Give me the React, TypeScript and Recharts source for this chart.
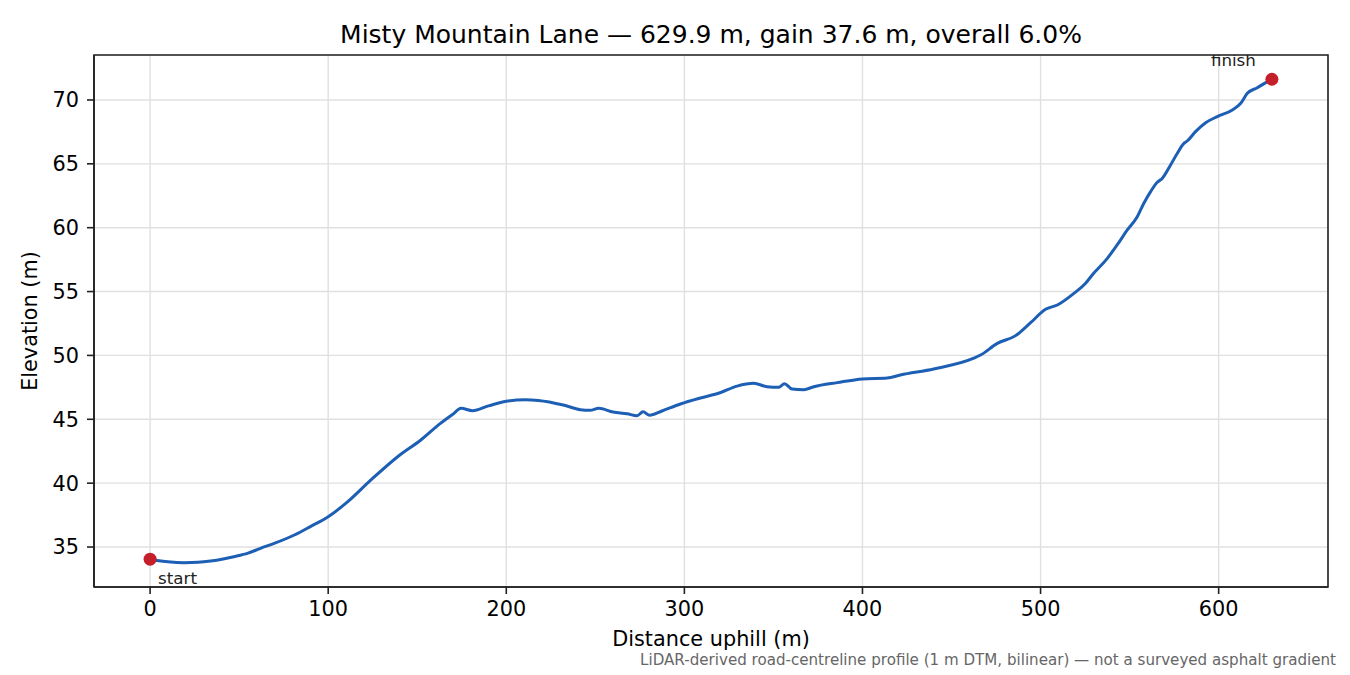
import React from 'react';
import { ComposedChart, Line, Scatter, XAxis, YAxis, CartesianGrid, ReferenceArea } from 'recharts';

// Distance along the lane (m)
const distances = [
  0, 5, 10, 19, 27, 34, 41, 47, 55, 62, 70, 81, 90, 100, 111, 124, 139, 152, 163, 170,
  174.6, 181, 190, 200, 210.7, 218, 232, 241.6, 247, 251.9, 260, 267.8, 273.4, 276.8, 280.5, 287.4,
  297.8, 309, 320, 329.6, 338.9, 346.4, 353, 356.2, 360.5, 367, 372.7, 385.8, 400, 413.9, 421.3,
  440, 462.5, 466.3, 475.7, 486, 494.4, 502.8, 509.4, 518.7, 525.3, 529, 537.5, 543, 548.7, 554.3,
  558, 561.8, 565.5, 568.4, 573, 576.8, 580.5, 582.4, 587, 592.7, 599.3, 607.7, 612.4, 616.1, 621.7,
  627.4, 629.9,
];

// Elevation (m)
const elevations = [
  34.05, 33.92, 33.84, 33.77, 33.8, 33.9, 34.06, 34.24, 34.52, 34.9, 35.3, 35.94, 36.6, 37.37, 38.55,
  40.25, 42.07, 43.38, 44.68, 45.4, 45.86, 45.67, 46.05, 46.41, 46.53, 46.48, 46.12, 45.75, 45.7, 45.86,
  45.57, 45.44, 45.28, 45.59, 45.31, 45.65, 46.2, 46.67, 47.08, 47.6, 47.82, 47.55, 47.5, 47.79, 47.37,
  47.32, 47.55, 47.87, 48.16, 48.23, 48.47, 48.94, 49.78, 50.03, 50.94, 51.55, 52.56, 53.61, 53.95,
  54.86, 55.65, 56.3, 57.6, 58.65, 59.82, 60.86, 61.91, 62.82, 63.55, 63.87, 64.91, 65.83, 66.6, 66.79,
  67.52, 68.22, 68.7, 69.22, 69.74, 70.52, 70.96, 71.44, 71.62,
];

const markerDistances = [0, 629.9];
const markerElevations = [34.05, 71.62];
const markerLabels = ['start', 'finish'];

const xTicks = [0, 100, 200, 300, 400, 500, 600];
const yTicks = [35, 40, 45, 50, 55, 60, 65, 70];
const xDomain: [number, number] = [-31.5, 661.4];
const yDomain: [number, number] = [31.87, 73.52];

const titleText = 'Misty Mountain Lane — 629.9 m, gain 37.6 m, overall 6.0%';
const xLabelText = 'Distance uphill (m)';
const yLabelText = 'Elevation (m)';
const footnoteText = 'LiDAR-derived road-centreline profile (1 m DTM, bilinear) — not a surveyed asphalt gradient';

const profile = distances.map((d, i) => ({ dist: d, elev: elevations[i] }));
const markers = markerDistances.map((d, i) => ({ dist: d, elev: markerElevations[i], label: markerLabels[i] }));

const FONT = '"DejaVu Sans", sans-serif';
const LINE_BLUE = '#1c5fb4';
const MARK_RED = '#c41f2b';

const MarkerShape = (props: any) => {
  const { cx, cy, payload } = props;
  if (cx == null || cy == null) return null;
  const isStart = payload && payload.label === 'start';
  return (
    <g>
      <circle cx={cx} cy={cy} r={6.5} fill={MARK_RED} />
      <text
        x={isStart ? cx + 8 : cx - 16}
        y={isStart ? cy + 24.5 : cy - 13}
        textAnchor={isStart ? 'start' : 'end'}
        fontSize={16.7}
        fontFamily={FONT}
        fill="#222"
      >
        {payload.label}
      </text>
    </g>
  );
};

export default function App() {
  const axisStroke = { stroke: '#222', strokeWidth: 1.6 };
  const tickStyle = { fill: '#000', fontSize: 20.8, fontFamily: FONT };
  return (
    <div style={{ position: 'absolute', left: 0, top: 0, width: 1350, height: 675, background: '#fff', fontFamily: FONT }}>
      <ComposedChart
        width={1350}
        height={675}
        margin={{ top: 55, right: 22, bottom: 48, left: 24 }}
      >
        <CartesianGrid stroke="#e0e0e0" strokeWidth={1.4} />
        <XAxis
          dataKey="dist"
          type="number"
          domain={xDomain}
          ticks={xTicks}
          allowDataOverflow
          height={40}
          tickSize={7}
          tickMargin={7}
          axisLine={axisStroke}
          tickLine={axisStroke}
          tick={tickStyle}
        />
        <YAxis
          type="number"
          domain={yDomain}
          ticks={yTicks}
          allowDataOverflow
          width={70}
          tickSize={7}
          tickMargin={8}
          axisLine={axisStroke}
          tickLine={axisStroke}
          tick={tickStyle}
        />
        <ReferenceArea
          x1={xDomain[0]}
          x2={xDomain[1]}
          y1={yDomain[0]}
          y2={yDomain[1]}
          fill="none"
          fillOpacity={0}
          stroke="#222"
          strokeWidth={1.6}
          ifOverflow="visible"
        />
        <Line
          data={profile}
          dataKey="elev"
          type="monotone"
          stroke={LINE_BLUE}
          strokeWidth={3}
          dot={false}
          activeDot={false}
          isAnimationActive={false}
        />
        <Scatter
          data={markers}
          dataKey="elev"
          shape={<MarkerShape />}
          isAnimationActive={false}
        />
      </ComposedChart>
      <svg
        width={1350}
        height={675}
        style={{ position: 'absolute', left: 0, top: 0, pointerEvents: 'none' }}
      >
        <text x={711} y={42.5} textAnchor="middle" fontSize={25} fontFamily={FONT} fill="#000">
          {titleText}
        </text>
        <text x={711} y={646} textAnchor="middle" fontSize={20.8} fontFamily={FONT} fill="#000">
          {xLabelText}
        </text>
        <text
          x={37}
          y={321}
          textAnchor="middle"
          fontSize={20.8}
          fontFamily={FONT}
          fill="#000"
          transform="rotate(-90 37 321)"
        >
          {yLabelText}
        </text>
        <text x={1336} y={665} textAnchor="end" fontSize={15.1} fontFamily={FONT} fill="#666">
          {footnoteText}
        </text>
      </svg>
    </div>
  );
}
